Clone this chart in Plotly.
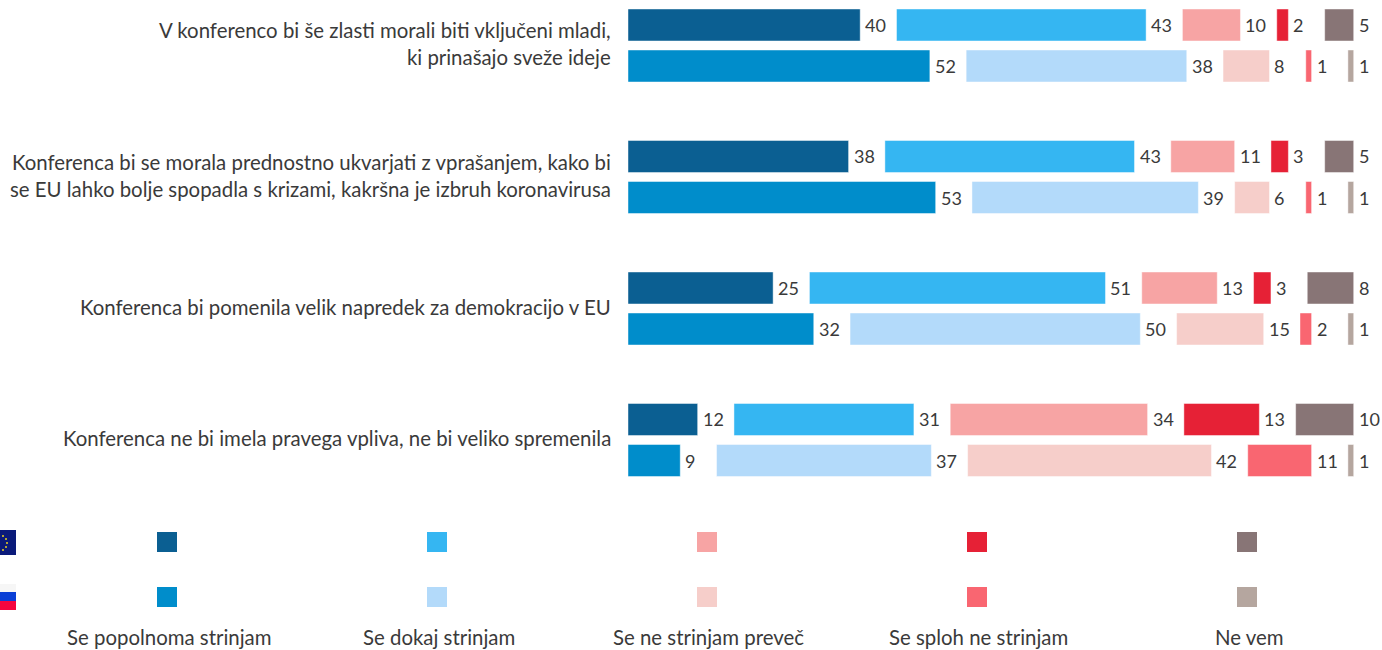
import plotly.graph_objects as go

questions = [
    "V konferenco bi še zlasti morali biti vključeni mladi,<br>ki prinašajo sveže ideje",
    "Konferenca bi se morala prednostno ukvarjati z vprašanjem, kako bi<br>se EU lahko bolje spopadla s krizami, kakršna je izbruh koronavirusa",
    "Konferenca bi pomenila velik napredek za demokracijo v EU",
    "Konferenca ne bi imela pravega vpliva, ne bi veliko spremenila",
]
answers = ["Se popolnoma strinjam", "Se dokaj strinjam", "Se ne strinjam preveč", "Se sploh ne strinjam", "Ne vem"]

eu_strongly = [40, 38, 25, 12]
eu_fairly = [43, 43, 51, 31]
eu_notvery = [10, 11, 13, 34]
eu_notatall = [2, 3, 3, 13]
eu_dontknow = [5, 5, 8, 10]

si_strongly = [52, 53, 32, 9]
si_fairly = [38, 39, 50, 37]
si_notvery = [8, 6, 15, 42]
si_notatall = [1, 1, 2, 11]
si_dontknow = [1, 1, 1, 1]

eu_colors = ["#0B5F92", "#35B6F2", "#F7A4A4", "#E62136", "#887576"]
si_colors = ["#008DCB", "#B3DAFA", "#F6CECA", "#F96671", "#B5A69F"]

W, H = 1382, 650
X0 = 628; PX = 5.805; GAP = 36.3 / PX
Y0 = 45.5; PITCH = 131.5
FONT = "Lato"
TXT = "#3a3a3a"

def px(x): return x / W
def py(y): return 1 - y / H

fig = go.Figure()
anns = []
shapes = []

def add_country(series, colors, off):
    base = [0.0] * len(questions)
    for vals, color in zip(series, colors):
        fig.add_trace(go.Bar(
            x=vals, y=[i + off for i in range(len(vals))], base=list(base),
            orientation="h", width=32 / PITCH,
            marker=dict(color=color, line=dict(color="rgba(255,255,255,0.45)", width=1)),
            showlegend=False, hoverinfo="skip"))
        for i, v in enumerate(vals):
            anns.append(dict(x=base[i] + v, y=i + off, xref="x", yref="y", text=str(v),
                             showarrow=False, xanchor="left", yanchor="middle", xshift=3,
                             font=dict(family=FONT, size=18, color=TXT)))
            base[i] += v + GAP

add_country([eu_strongly, eu_fairly, eu_notvery, eu_notatall, eu_dontknow], eu_colors, -0.156)
add_country([si_strongly, si_fairly, si_notvery, si_notatall, si_dontknow], si_colors, 0.156)

for i, q in enumerate(questions):
    anns.append(dict(x=px(613), y=i, xref="paper", yref="y", text=q, showarrow=False,
                     xanchor="right", yanchor="middle", align="right", yshift=2,
                     font=dict(family=FONT, size=20.4, color=TXT)))

def rect(x0, y0, x1, y1, color, line=None):
    shapes.append(dict(type="rect", xref="paper", yref="paper", x0=px(x0), x1=px(x1),
                       y0=py(y0), y1=py(y1), fillcolor=color, line=dict(width=0)))

for j, a in enumerate(answers):
    cx = 167 + 270 * j
    rect(cx - 10, 532, cx + 10, 552, eu_colors[j])
    rect(cx - 10, 587, cx + 10, 607, si_colors[j])
    anns.append(dict(x=px(cx + 2), y=py(636.5), xref="paper", yref="paper", text=a, showarrow=False,
                     xanchor="center", yanchor="middle",
                     font=dict(family=FONT, size=20.4, color=TXT)))

# flags
rect(0, 530, 16, 555, "#0A1A7A")
for sx, sy in [(3, 536), (6, 539), (7, 543), (6, 547), (3, 550)]:
    shapes.append(dict(type="circle", xref="paper", yref="paper", x0=px(sx - 1), x1=px(sx + 1),
                       y0=py(sy - 1), y1=py(sy + 1), fillcolor="#E8D020", line=dict(width=0)))
rect(0, 584, 16, 592, "#F6F6F6")
rect(0, 592, 16, 601, "#0A3FD6")
rect(0, 601, 16, 610, "#F5053F")

fig.update_layout(
    width=W, height=H, margin=dict(l=0, r=0, t=0, b=0),
    paper_bgcolor="white", plot_bgcolor="white", barmode="overlay",
    annotations=anns, shapes=shapes,
    xaxis=dict(range=[-X0 / PX, (W - X0) / PX], visible=False, fixedrange=True),
    yaxis=dict(range=[(H - Y0) / PITCH, -Y0 / PITCH], visible=False, fixedrange=True),
)
fig.write_html("out.html", config={"displayModeBar": False},
               post_script="document.body.style.margin='0';")
